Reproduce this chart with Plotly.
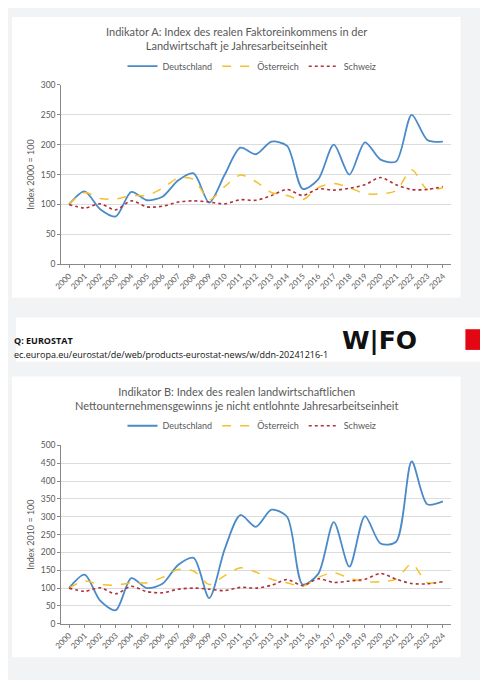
import plotly.graph_objects as go

years = [str(y) for y in range(2000, 2025)]
a_de = [100,122,92,80,121,107,113,140,152,103,150,195,184,205,198,126,142,200,150,204,175,172,250,208,205]
a_at = [100,120,110,109,115,115,127,144,142,108,130,149,138,120,115,108,128,135,128,118,118,123,158,125,128]
a_ch = [100,94,101,91,106,96,97,104,106,104,101,108,107,115,125,115,126,124,127,133,145,133,125,125,130]
b_de = [100,138,65,38,128,100,112,165,185,72,210,305,272,320,300,110,140,285,160,302,225,230,455,335,343]
b_at = [100,120,110,108,115,115,130,152,148,110,135,157,145,125,115,105,130,143,128,118,118,125,168,115,120]
b_ch = [100,91,101,84,105,90,87,97,100,97,93,102,100,108,124,107,126,116,120,125,141,125,113,112,118]

OFF = 8  # browser body margin
W, H = 488 - OFF, 680 - OFF
def py(p): return 1 - (p - OFF) / H
def px(p): return (p - OFF) / W

FONT = "Lato"
GR = "#595959"
fig = go.Figure()
series = [("Deutschland", "#4a8ac8", "solid", 1.8), ("Österreich", "#f5c02a", "dash", 1.5), ("Schweiz", "#b0303a", "dot", 1.6)]
for (vals, xa, ya, lg) in [((a_de, a_at, a_ch), "x", "y", "legend"), ((b_de, b_at, b_ch), "x2", "y2", "legend2")]:
    for v, (name, col, dash, w) in zip(vals, series):
        fig.add_trace(go.Scatter(x=years, y=v, name=name, mode="lines", xaxis=xa, yaxis=ya, legend=lg,
                                 line=dict(color=col, dash=dash, width=w, shape="spline", smoothing=0.8)))

ax = dict(type="category", range=[-0.5, 24.5], tickangle=-45, tickfont=dict(size=8, color=GR, family=FONT),
          showline=True, linecolor="#888", ticks="outside", ticklen=3, tickcolor="#888", showgrid=False,
          domain=[px(54), px(450)])
ay = dict(showline=True, linecolor="#888", ticks="outside", ticklen=3, tickcolor="#888", gridcolor="#dcdcdc",
          tickfont=dict(size=8.5, color=GR, family=FONT), zeroline=False)
fig.update_layout(
    width=W, height=H, margin=dict(l=0, r=0, t=0, b=0),
    paper_bgcolor="#f1f3f5", plot_bgcolor="white", font=dict(family=FONT, color=GR),
    xaxis=dict(ax, anchor="y"), xaxis2=dict(ax, anchor="y2"),
    yaxis=dict(ay, domain=[py(263), py(81)], range=[0, 300], dtick=50, anchor="x",
               title=dict(text="Index 2000 = 100", font=dict(size=9, color=GR), standoff=4)),
    yaxis2=dict(ay, domain=[py(628), py(447)], range=[0, 500], dtick=50, anchor="x2",
                title=dict(text="Index 2010 = 100", font=dict(size=9, color=GR), standoff=4)),
    legend=dict(orientation="h", x=0.5, xanchor="center", y=py(62), yanchor="middle", bgcolor="rgba(0,0,0,0)",
                font=dict(size=9, color=GR), itemwidth=30),
    legend2=dict(orientation="h", x=0.5, xanchor="center", y=py(427), yanchor="middle", bgcolor="rgba(0,0,0,0)",
                 font=dict(size=9, color=GR), itemwidth=30),
    shapes=[
        dict(type="rect", xref="paper", yref="paper", x0=px(4), x1=px(460), y0=py(297), y1=py(12), fillcolor="white", line_width=0, layer="below"),
        dict(type="rect", xref="paper", yref="paper", x0=px(4), x1=px(460), y0=py(662), y1=py(377), fillcolor="white", line_width=0, layer="below"),
        dict(type="rect", xref="paper", yref="paper", x0=0, x1=px(485), y0=py(362), y1=py(317), fillcolor="white", line_width=0, layer="below"),
        dict(type="rect", xref="paper", yref="paper", x0=px(465), x1=px(487), y0=py(350), y1=py(329), fillcolor="#e30613", line_width=0),
    ],
    annotations=[
        dict(text="Indikator A: Index des realen Faktoreinkommens in der<br>Landwirtschaft je Jahresarbeitseinheit", x=px(232), y=py(34),
             xref="paper", yref="paper", yanchor="middle", showarrow=False, font=dict(size=11, color=GR)),
        dict(text="Indikator B: Index des realen landwirtschaftlichen<br>Nettounternehmensgewinns je nicht entlohnte Jahresarbeitseinheit", x=px(232), y=py(399),
             xref="paper", yref="paper", yanchor="middle", showarrow=False, font=dict(size=11, color=GR)),
        dict(text="<b>Q: EUROSTAT</b>", x=px(4), y=py(340), xref="paper", yref="paper", xanchor="left", yanchor="middle", showarrow=False,
             font=dict(size=9, color="#111", family="Open Sans")),
        dict(text="ec.europa.eu/eurostat/de/web/products-eurostat-news/w/ddn-20241216-1", x=px(4), y=py(355), xref="paper", yref="paper",
             xanchor="left", yanchor="middle", showarrow=False, font=dict(size=9, color="#111", family="Open Sans")),
        dict(text="<b>W|FO</b>", x=px(418), y=py(340), xref="paper", yref="paper", yanchor="middle", showarrow=False,
             font=dict(size=25, color="#111", family="DejaVu Sans")),
    ],
)
fig.write_html("out.html")
